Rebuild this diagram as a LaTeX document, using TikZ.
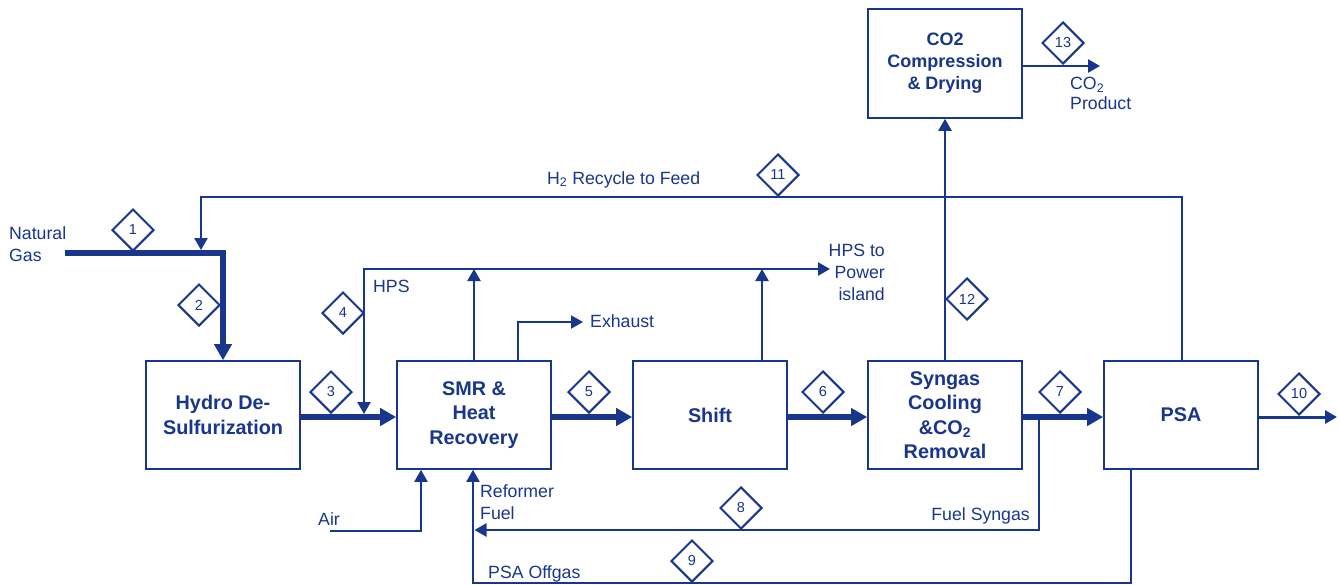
\documentclass[tikz,border=0pt]{standalone}
\usepackage{fontspec}
\setmainfont{Liberation Sans}
\usetikzlibrary{arrows.meta,shapes.geometric}
\definecolor{fb}{RGB}{24,54,140}
\begin{document}
\begin{tikzpicture}[x=1pt,y=-1pt,
  box/.style={draw=fb, line width=1.6pt, fill=white, text=fb, font=\fontsize{19.8}{24.5}\selectfont\bfseries, align=center, inner sep=0pt, minimum width=154pt, minimum height=108pt},
  dia/.style={diamond, draw=fb, line width=2pt, fill=white, minimum width=42pt, minimum height=42pt, inner sep=0pt, text=fb, font=\fontsize{14.5}{14.5}\selectfont},
  lbl/.style={text=fb, font=\fontsize{17.7}{22}\selectfont, inner sep=0pt},
  thickflow/.style={draw=fb, line width=5.5pt, -{Triangle[length=16pt,width=17pt]}},
  thinflow/.style={draw=fb, line width=2.5pt, -{Triangle[length=12pt,width=13pt]}},
  slimflow/.style={draw=fb, line width=2pt, -{Triangle[length=12pt,width=13pt]}},
]
\useasboundingbox (0,0) rectangle (1339,584);

% process boxes
\node[box] (hds) at (223,415) {Hydro De-\\Sulfurization};
\node[box] (smr) at (474,415) {SMR \&\\Heat\\Recovery};
\node[box] (shift) at (710,415) {Shift};
\node[box] (syn) at (945,415) {Syngas\\Cooling\\ \&CO\textsubscript{2}\\Removal};
\node[box] (psa) at (1181,415) {PSA};
\node[box, minimum height=109pt, font=\fontsize{18}{22}\selectfont\bfseries] (co2) at (945,63.5) {CO2\\Compression\\\& Drying};

% coordinates
\coordinate (ng0) at (65,253);
\coordinate (ng1) at (223,253);
\coordinate (h2a) at (1182,197);
\coordinate (h2b) at (201,197);
\coordinate (h2c) at (201,250);
\coordinate (hpsc) at (364,269);
\coordinate (hpsin) at (364,414);
\coordinate (hpsend) at (830,269);
\coordinate (shup) at (762,361);
\coordinate (ex0) at (518,361);
\coordinate (ex1) at (518,322);
\coordinate (ex2) at (583,322);
\coordinate (fsj) at (1039,417);
\coordinate (fsc) at (1039,530);
\coordinate (fse) at (474.5,530);
\coordinate (og1) at (1131,469);
\coordinate (og2) at (1131,582.5);
\coordinate (og3) at (473,582.5);
\coordinate (air1) at (330,531);
\coordinate (air2) at (421,531);
\coordinate (pout) at (1337,417);
\coordinate (co2p) at (1100,66);

% main flows
\draw[thickflow] (ng0) -- (ng1) -- (hds.north);
\draw[thickflow] ([yshift=-2pt]hds.east) -- ([yshift=-2pt]smr.west);
\draw[thickflow] ([yshift=-2pt]smr.east) -- ([yshift=-2pt]shift.west);
\draw[thickflow] ([yshift=-2pt]shift.east) -- ([yshift=-2pt]syn.west);
\draw[thickflow] ([yshift=-2pt]syn.east) -- ([yshift=-2pt]psa.west);

% H2 recycle
\draw[thinflow] (psa.north -| h2a) -- (h2a) -- (h2b) -- (h2c);
% HPS
\draw[draw=fb, line width=2.5pt, {Triangle[length=12pt,width=13pt]}-{Triangle[length=12pt,width=13pt]}] (hpsin) -- (hpsc) -- (hpsend);
\draw[thinflow] (smr.north) -- (smr.north |- hpsc);
\draw[thinflow] (shup) -- (shup |- hpsc);
% exhaust
\draw[slimflow] (ex0) -- (ex1) -- (ex2);
% fuel syngas
\draw[thinflow] (fsj) -- (fsc) -- (fse);
% PSA offgas
\draw[slimflow] (og1) -- (og2) -- (og3) -- (og3 |- smr.south);
% air
\draw[slimflow] (air1) -- (air2) -- (air2 |- smr.south);
% PSA product
\draw[draw=fb, line width=3pt, -{Triangle[length=12pt,width=13pt]}] (psa.east |- pout) -- (pout);
% CO2
\draw[thinflow] (syn.north) -- (syn.north |- co2.south);
\draw[thinflow] (co2.east |- co2p) -- (co2p);

% stream diamonds
\node[dia] (d1) at (133,230) {1};
\node[dia] (d2) at (199,305) {2};
\node[dia] (d3) at (331,392) {3};
\node[dia] (d4) at (343,313) {4};
\node[dia] (d5) at (589,392) {5};
\node[dia] (d6) at (823,392) {6};
\node[dia] (d7) at (1060,392) {7};
\node[dia] (d8) at (741,508) {8};
\node[dia] (d9) at (692,561) {9};
\node[dia] (d10) at (1299,394) {10};
\node[dia] (d11) at (778,175) {11};
\node[dia] (d12) at (967,299) {12};
\node[dia] (d13) at (1063,43) {13};

% labels
\node[lbl, align=left, anchor=south west] (lng) at (9,262) {Natural\\Gas};
\node[lbl, anchor=base west] (lh2) at (547,184) {H\textsubscript{2} Recycle to Feed};
\node[lbl, anchor=base west] (lhps) at (373,292) {HPS};
\node[lbl, anchor=base west] (lex) at (590,327) {Exhaust};
\node[lbl, align=right, anchor=south east] (lhpsp) at (885,301) {HPS to\\Power\\island};
\node[lbl, align=left, anchor=south west] (lco2) at (1070,110) {CO\textsubscript{2}\\[-2pt]Product};
\node[lbl, align=left, anchor=south west] (lrf) at (480,520) {Reformer\\Fuel};
\node[lbl, anchor=base east] (lfs) at (1030,520) {Fuel Syngas};
\node[lbl, anchor=base west] (log) at (488,578) {PSA Offgas};
\node[lbl, anchor=base west] (lair) at (318,525) {Air};
\end{tikzpicture}
\end{document}
